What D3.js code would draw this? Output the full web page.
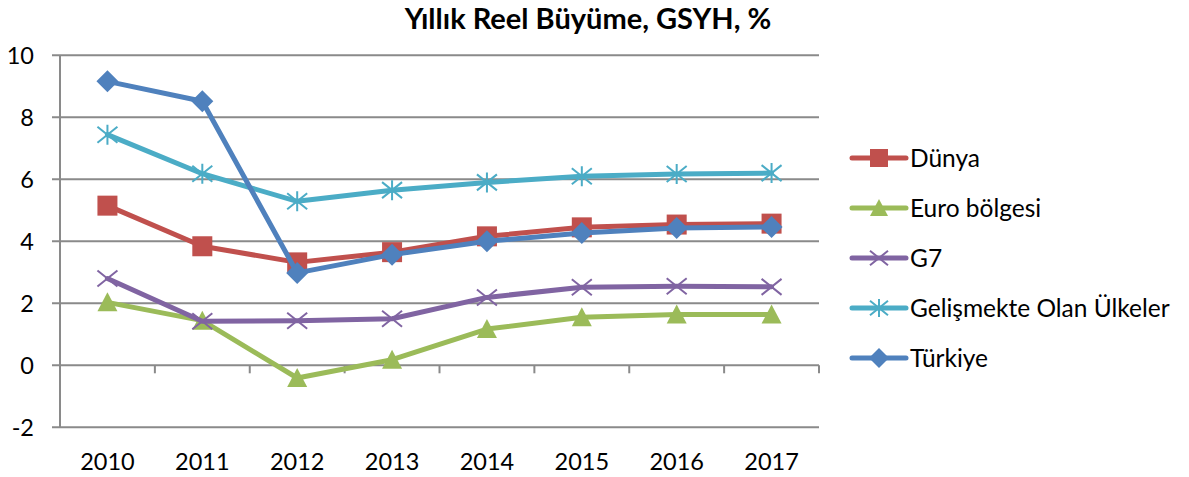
<!DOCTYPE html>
<html><head><meta charset="utf-8">
<script src="https://cdn.jsdelivr.net/npm/d3@7"></script>
<style>
html,body{margin:0;padding:0;background:#fff;}
svg{display:block;}
text{font-family:Lato,"Open Sans",sans-serif;fill:#000;}
</style></head>
<body><svg id="c" width="1189" height="477"></svg>
<script>
const years = ["2010","2011","2012","2013","2014","2015","2016","2017"];
const yTicks = [-2,0,2,4,6,8,10];
const seriesNames = ["Dünya","Euro bölgesi","G7","Gelişmekte Olan Ülkeler","Türkiye"];
const dunya      = [5.15, 3.84, 3.32, 3.65, 4.16, 4.45, 4.54, 4.57];
const euro       = [2.03, 1.44, -0.41, 0.18, 1.17, 1.55, 1.64, 1.64];
const g7         = [2.80, 1.42, 1.44, 1.50, 2.19, 2.52, 2.55, 2.53];
const gelismekte = [7.44, 6.18, 5.29, 5.65, 5.90, 6.10, 6.17, 6.20];
const turkiye    = [9.16, 8.52, 2.98, 3.57, 4.00, 4.27, 4.43, 4.46];
const title = "Yıllık Reel Büyüme, GSYH, %";

const colors = ["#C0504D","#9BBB59","#8064A2","#4BACC6","#4F81BD"];
const markers = ["square","triangle","x","star","diamond"];
const values = [dunya, euro, g7, gelismekte, turkiye];

const svg = d3.select("#c");
const L = 60, R = 819, T = 55.3, B = 427.3;
const x = d3.scaleBand().domain(years).range([L, R]).padding(0);
const y = d3.scaleLinear().domain([-2, 10]).range([B, T]);
const cx = d => x(d) + x.bandwidth()/2;
const gridColor = "#8a8a8a";

// gridlines
svg.append("g").selectAll("line").data(yTicks).join("line")
  .attr("x1", L - 8).attr("x2", R)
  .attr("y1", d => y(d)).attr("y2", d => y(d))
  .attr("stroke", gridColor).attr("stroke-width", 2);
// left axis
svg.append("line").attr("x1", L).attr("x2", L).attr("y1", y(10)).attr("y2", y(-2))
  .attr("stroke", gridColor).attr("stroke-width", 2);
// y labels
svg.append("g").selectAll("text").data(yTicks).join("text")
  .attr("x", 34).attr("y", d => y(d)).attr("dy", "0.36em")
  .attr("text-anchor", "end").style("font-size", "23.5px").text(d => d);
// x ticks at category boundaries (on 0 line)
const bounds = years.map(d => x(d)).concat([R]);
svg.append("g").selectAll("line").data(bounds).join("line")
  .attr("x1", d => d).attr("x2", d => d)
  .attr("y1", y(0)).attr("y2", y(0) + 8)
  .attr("stroke", gridColor).attr("stroke-width", 2);
// x labels
svg.append("g").selectAll("text").data(years).join("text")
  .attr("x", d => cx(d)).attr("y", 470)
  .attr("text-anchor", "middle").style("font-size", "23.5px").text(d => d);

// title
svg.append("text").attr("x", 588).attr("y", 29).attr("text-anchor", "middle")
  .style("font-size", "29px").style("font-weight", "bold").text(title);

function drawMarker(g, type, color, px, py, s) {
  const h = s/2;
  if (type === "square") {
    g.append("rect").attr("x", px-h).attr("y", py-h).attr("width", s).attr("height", s).attr("fill", color);
  } else if (type === "diamond") {
    g.append("path").attr("d", `M${px},${py-h-1}L${px+h+1},${py}L${px},${py+h+1}L${px-h-1},${py}Z`).attr("fill", color);
  } else if (type === "triangle") {
    g.append("path").attr("d", `M${px},${py-h}L${px+h},${py+h-1}L${px-h},${py+h-1}Z`).attr("fill", color);
  } else if (type === "x") {
    g.append("path").attr("d", `M${px-h},${py-h*0.8}L${px+h},${py+h*0.8}M${px-h},${py+h*0.8}L${px+h},${py-h*0.8}`)
      .attr("stroke", color).attr("stroke-width", 2).attr("fill", "none");
  } else if (type === "star") {
    g.append("path").attr("d", `M${px-h},${py-h*0.8}L${px+h},${py+h*0.8}M${px-h},${py+h*0.8}L${px+h},${py-h*0.8}M${px},${py-h}L${px},${py+h}`)
      .attr("stroke", color).attr("stroke-width", 2).attr("fill", "none");
  }
}

const line = d3.line().x((d,i) => cx(years[i])).y(d => y(d));
values.forEach((vals, k) => {
  const g = svg.append("g");
  g.append("path").datum(vals).attr("d", line).attr("fill", "none")
    .attr("stroke", colors[k]).attr("stroke-width", 5)
    .attr("stroke-linejoin", "round").attr("stroke-linecap", "round");
  vals.forEach((v, i) => drawMarker(g, markers[k], colors[k], cx(years[i]), y(v), 20));
});

// legend
const lg = svg.append("g");
seriesNames.forEach((name, k) => {
  const ly = 158 + k*50;
  lg.append("line").attr("x1", 852).attr("x2", 906).attr("y1", ly).attr("y2", ly)
    .attr("stroke", colors[k]).attr("stroke-width", 5).attr("stroke-linecap", "round");
  drawMarker(lg, markers[k], colors[k], 879, ly, 18);
  lg.append("text").attr("x", 910).attr("y", ly).attr("dy", "0.36em")
    .style("font-size", "24.5px").text(name);
});
</script></body></html>
